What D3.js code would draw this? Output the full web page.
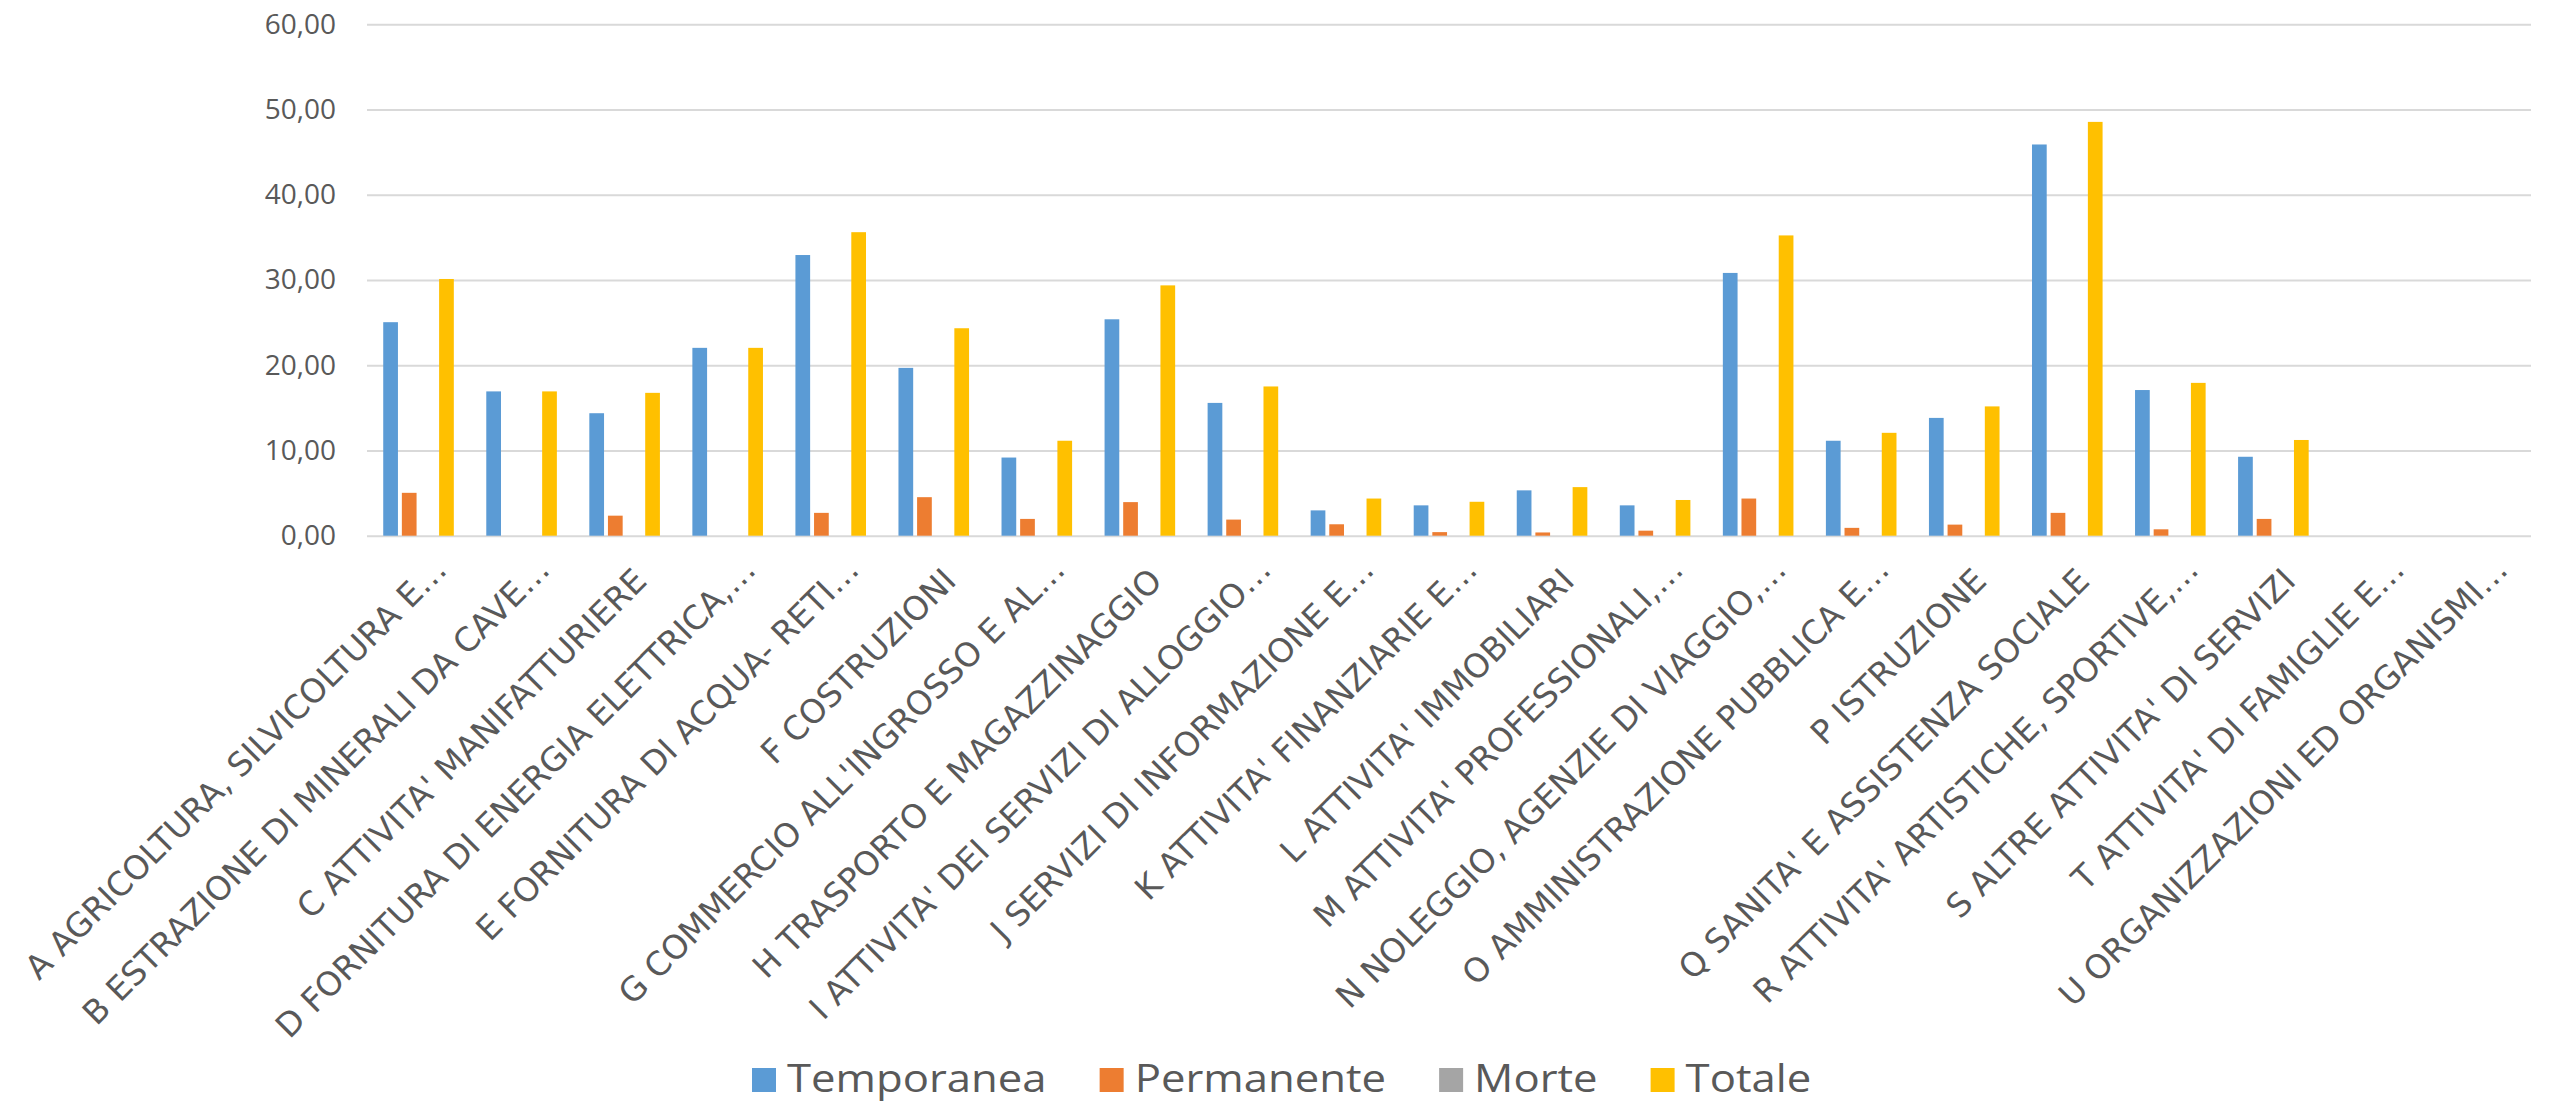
<!DOCTYPE html>
<html>
<head>
<meta charset="utf-8">
<script src="https://cdn.jsdelivr.net/npm/d3@7"></script>
<style>
  html, body { margin: 0; padding: 0; background: #fff; }
  svg { display: block; }
  text { font-family: "Open Sans", "Noto Sans", sans-serif; fill: #595959; }
</style>
</head>
<body>
<svg id="chart" width="2554" height="1105"></svg>
<script>
const categories = [
  "A AGRICOLTURA, SILVICOLTURA E…",
  "B ESTRAZIONE DI MINERALI DA CAVE…",
  "C ATTIVITA' MANIFATTURIERE",
  "D FORNITURA DI ENERGIA ELETTRICA,…",
  "E FORNITURA DI ACQUA- RETI…",
  "F COSTRUZIONI",
  "G COMMERCIO ALL'INGROSSO E AL…",
  "H TRASPORTO E MAGAZZINAGGIO",
  "I ATTIVITA' DEI SERVIZI DI ALLOGGIO…",
  "J SERVIZI DI INFORMAZIONE E…",
  "K ATTIVITA' FINANZIARIE E…",
  "L ATTIVITA' IMMOBILIARI",
  "M ATTIVITA' PROFESSIONALI,…",
  "N NOLEGGIO, AGENZIE DI VIAGGIO,…",
  "O AMMINISTRAZIONE PUBBLICA E…",
  "P ISTRUZIONE",
  "Q SANITA' E ASSISTENZA SOCIALE",
  "R ATTIVITA' ARTISTICHE, SPORTIVE,…",
  "S ALTRE ATTIVITA' DI SERVIZI",
  "T ATTIVITA' DI FAMIGLIE E…",
  "U ORGANIZZAZIONI ED ORGANISMI…"
];
const seriesNames = ["Temporanea", "Permanente", "Morte", "Totale"];
const temporanea = [25.05, 16.93, 14.37, 22.04, 32.93, 19.69, 9.17, 25.39, 15.58, 2.97, 3.56, 5.32, 3.56, 30.83, 11.14, 13.82, 45.90, 17.09, 9.26, 0, 0];
const permanente = [5.03, 0, 2.35, 0, 2.68, 4.52, 1.97, 3.94, 1.89, 1.34, 0.42, 0.38, 0.59, 4.36, 0.92, 1.30, 2.68, 0.75, 1.97, 0, 0];
const morte      = [0, 0, 0, 0, 0, 0, 0, 0, 0, 0, 0, 0, 0, 0, 0, 0, 0, 0, 0, 0, 0];
const totale     = [30.12, 16.93, 16.76, 22.04, 35.61, 24.34, 11.14, 29.37, 17.51, 4.36, 3.98, 5.70, 4.19, 35.23, 12.07, 15.17, 48.55, 17.93, 11.23, 0, 0];
const yTicks = [0, 10, 20, 30, 40, 50, 60];
const colors = ["#5B9BD5", "#ED7D31", "#A5A5A5", "#FFC000"];

const seriesValues = [temporanea, permanente, morte, totale];
const rows = categories.map((c, i) => ({
  cat: c,
  vals: seriesNames.map((s, k) => ({ key: s, value: seriesValues[k][i], color: colors[k] }))
}));

const svg = d3.select("#chart");
const plotLeft = 367, plotRight = 2531, plotTop = 24.3, plotBottom = 535.7;

const x0 = d3.scaleBand().domain(categories).range([plotLeft, plotRight])
  .paddingInner(0.315).paddingOuter(0.1575);
const x1 = d3.scaleBand().domain(seriesNames).range([0, x0.bandwidth()]).paddingInner(0.21);
const y = d3.scaleLinear().domain([0, 60]).range([plotBottom, plotTop]);

const fmt = d => d.toFixed(2).replace(".", ",");

// gridlines
const grid = svg.append("g").attr("transform", `translate(${plotLeft},0)`)
  .call(d3.axisLeft(y).tickValues(yTicks).tickSize(-(plotRight - plotLeft)).tickFormat(""));
grid.select(".domain").remove();
grid.selectAll(".tick line").attr("stroke", "#D9D9D9").attr("stroke-width", 2);

// y labels
const ya = svg.append("g").attr("transform", `translate(${plotLeft},0)`)
  .call(d3.axisLeft(y).tickValues(yTicks).tickSize(0).tickPadding(31).tickFormat(fmt));
ya.select(".domain").remove();
ya.selectAll("text").attr("font-size", 28).attr("fill", "#595959")
  .style("font-family", '"Open Sans", sans-serif');

// bars
const groups = svg.append("g").selectAll("g").data(rows).join("g")
  .attr("transform", d => `translate(${x0(d.cat)},0)`);
groups.selectAll("rect").data(d => d.vals).join("rect")
  .attr("x", d => x1(d.key))
  .attr("width", x1.bandwidth())
  .attr("y", d => y(d.value))
  .attr("height", d => y(0) - y(d.value))
  .attr("fill", d => d.color);

// x labels
const xa = svg.append("g").attr("transform", `translate(0,${plotBottom})`)
  .call(d3.axisBottom(x0).tickSize(0).tickPadding(0));
xa.select(".domain").remove();
xa.selectAll(".tick text")
  .attr("font-size", 33)
  .attr("fill", "#595959")
  .style("font-family", '"DejaVu Sans", Verdana, sans-serif')
  .attr("text-anchor", "end")
  .attr("dy", null)
  .attr("y", 0)
  .attr("transform", d => d.endsWith("…") ? "translate(30,36) rotate(-45)" : "translate(24,47) rotate(-45)");

// legend
const legend = svg.append("g");
const items = legend.selectAll("g").data(seriesNames).join("g");
items.append("rect").attr("width", 24).attr("height", 24).attr("y", 1068)
  .attr("fill", (d, i) => colors[i]);
const sx = 1.12;
items.append("text").text(d => d)
  .attr("transform", `translate(35,1092) scale(${sx},1)`)
  .attr("font-size", 39).style("font-family", '"Open Sans", sans-serif');
let widths = [];
items.each(function () { widths.push(35 + sx * this.querySelector("text").getComputedTextLength()); });
const gap = 53;
let cx = 752;
items.attr("transform", (d, i) => {
  const t = `translate(${cx},0)`;
  cx += widths[i] + gap;
  return t;
});
</script>
</body>
</html>
